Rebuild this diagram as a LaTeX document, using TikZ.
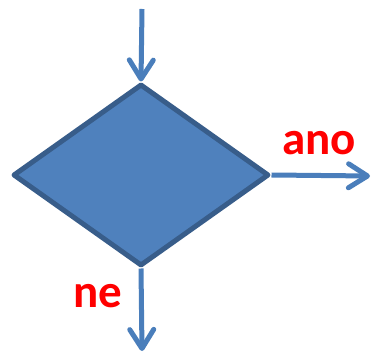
\documentclass[tikz,border=0pt]{standalone}
\usepackage{fontspec}
\setmainfont{Carlito}
\usetikzlibrary{shapes.geometric,arrows.meta}
\definecolor{fillblue}{HTML}{4F81BD}
\definecolor{edgeblue}{HTML}{385D8A}
\definecolor{arrowblue}{HTML}{4A7EBB}
\tikzset{
  decision/.style={diamond, draw=edgeblue, fill=fillblue, line width=5pt, inner sep=0pt, minimum width=256pt, minimum height=182pt, line join=round},
  flow/.style={draw=arrowblue, line width=5pt, -{Straight Barb[length=19pt,width=24pt,round]}},
  lbl/.style={text=red, font=\fontsize{47}{52}\selectfont\bfseries, anchor=base, inner sep=0pt}
}
\begin{document}
\begin{tikzpicture}[x=1pt,y=1pt]
\useasboundingbox (0,0) rectangle (372,-355);
\node[decision] (d) at (141,-175) {};
\coordinate (top) at (142,-9);
\coordinate (rend) at (370,-176);
\coordinate (bend) at (142,-351);
\draw[flow] (top) -- (d.north);
\draw[flow] (d.east) -- (rend);
\draw[flow] (d.south) -- (bend);
\node[lbl] (ano) at (319,-155) {ano};
\node[lbl] (ne) at (97.5,-307) {ne};
\end{tikzpicture}
\end{document}
